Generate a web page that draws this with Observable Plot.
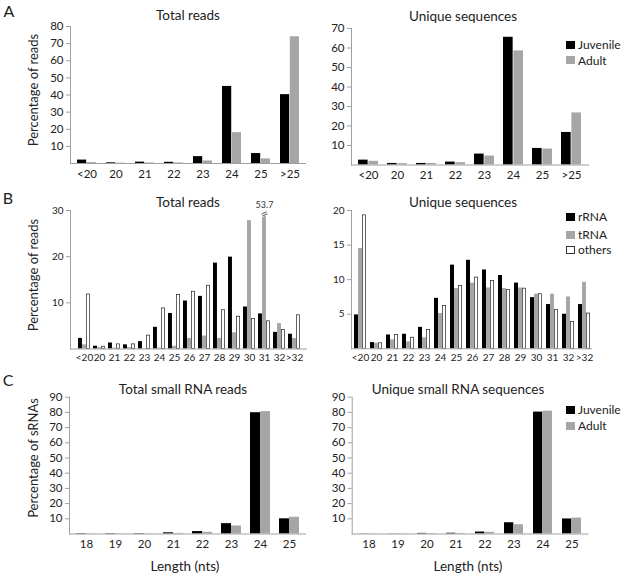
<!DOCTYPE html>
<html>
<head>
<meta charset="utf-8">
<script src="https://cdn.jsdelivr.net/npm/d3@7"></script>
<script src="https://cdn.jsdelivr.net/npm/@observablehq/plot@0.6"></script>
<style>
  html, body { margin: 0; padding: 0; background: #fff; }
  #fig { position: relative; width: 621px; height: 575px; background: #fff; font-family: Lato, "Open Sans", sans-serif; color: #222; overflow: hidden; }
  .lbl { position: absolute; white-space: nowrap; transform: translate(-50%, -50%); line-height: 1; }
  .sw { position: absolute; box-sizing: border-box; }
  svg { position: absolute; overflow: visible; }
</style>
</head>
<body>
<div id="fig"></div>
<script>
// ---------- DATA ----------
const catsA = ["<20", "20", "21", "22", "23", "24", "25", ">25"];
const aTotalJuvenile = [2.0, 0.4, 0.8, 0.7, 4.0, 45.0, 5.8, 40.2];
const aTotalAdult    = [0.5, 0.2, 0.3, 0.3, 1.5, 18.0, 2.7, 74.0];
const aUniqueJuvenile = [2.5, 0.8, 0.8, 1.5, 5.6, 65.5, 8.5, 16.7];
const aUniqueAdult    = [1.9, 0.7, 0.8, 1.2, 4.6, 58.5, 8.2, 26.7];

const catsB = ["<20", "20", "21", "22", "23", "24", "25", "26", "27", "28", "29", "30", "31", "32", ">32"];
const bTotalRRNA   = [2.3, 0.6, 1.3, 0.9, 1.6, 4.7, 7.7, 10.4, 11.4, 18.6, 19.9, 9.1, 7.6, 3.6, 3.2];
const bTotalTRNA   = [0.9, 0.3, 0.2, 0.3, 0.1, 0.2, 0.6, 2.3, 2.8, 2.3, 3.5, 27.8, 53.7, 5.5, 2.3];
const bTotalOthers = [11.8, 0.5, 1.0, 1.0, 2.9, 8.8, 11.7, 12.4, 13.7, 8.4, 7.0, 6.5, 6.0, 4.1, 7.3];
const bUniqueRRNA   = [4.9, 0.9, 2.0, 2.1, 3.1, 7.3, 12.1, 12.8, 11.4, 10.6, 9.5, 7.4, 6.4, 5.0, 6.4];
const bUniqueTRNA   = [14.5, 0.8, 1.3, 1.0, 1.6, 5.1, 8.7, 9.5, 8.8, 8.7, 8.8, 7.9, 7.9, 7.5, 9.6];
const bUniqueOthers = [19.3, 0.8, 2.0, 1.6, 2.7, 6.2, 9.1, 10.3, 9.8, 8.5, 8.7, 7.9, 5.6, 3.9, 5.1];

const catsC = ["18", "19", "20", "21", "22", "23", "24", "25"];
const cTotalJuvenile = [0.3, 0.3, 0.3, 0.8, 1.6, 6.8, 79.8, 10.0];
const cTotalAdult    = [0.1, 0.1, 0.1, 0.4, 1.1, 5.3, 80.5, 11.0];
const cUniqueJuvenile = [0.1, 0.1, 0.4, 0.5, 1.3, 7.4, 80.2, 9.9];
const cUniqueAdult    = [0.1, 0.1, 0.3, 0.4, 1.1, 6.1, 80.8, 10.5];

const ticksA1 = [10, 20, 30, 40, 50, 60, 70, 80];
const ticksA2 = [10, 20, 30, 40, 50, 60, 70];
const ticksB1 = [10, 20, 30];
const ticksB2 = [5, 10, 15, 20];
const ticksC  = [10, 20, 30, 40, 50, 60, 70, 80, 90];

// ---------- STYLE ----------
const BLACK = "#000000", GREY = "#a6a6a6", AXIS = "#a0a0a0";
const fig = document.getElementById("fig");

function panel(o) {
  const n = o.cats.length;
  const step = (o.width - o.ml - o.mr) / (n - o.padIn + 2 * o.padOut);
  const bw = step * (1 - o.padIn);
  const k = o.series.length;
  const sub = bw / k;
  const marks = [];
  o.series.forEach((s, i) => {
    const data = o.cats.map((c, j) => ({cat: c, v: s.values[j]}));
    const sw = s.stroke ? 0.7 : 0;
    marks.push(Plot.barY(data, {
      x: "cat",
      y1: 0,
      y2: d => Math.min(d.v, o.cap ?? Infinity),
      fill: s.fill,
      stroke: s.stroke || "none",
      strokeWidth: sw,
      insetLeft: i * sub + sw / 2,
      insetRight: (k - 1 - i) * sub + sw / 2
    }));
    if (o.cap != null) {
      const over = data.filter(d => d.v > o.cap);
      const dxOff = (i + 0.5) * sub - bw / 2;
      marks.push(Plot.text(over, {x: "cat", y: o.cap, text: d => "=", dx: dxOff, rotate: -25, fontSize: 13, fill: "#666", stroke: "white", strokeWidth: 1.2, paintOrder: "stroke"}));
      marks.push(Plot.text(over, {x: "cat", y: o.cap, text: d => String(d.v), dx: dxOff, dy: -9, fontSize: 9, fill: "#333"}));
    }
  });
  const svg = Plot.plot({
    width: o.width, height: o.height,
    marginLeft: o.ml, marginRight: o.mr, marginTop: o.mt, marginBottom: o.mb,
    style: {fontFamily: "Lato, 'Open Sans', sans-serif", fontSize: o.fontSize || "11.5px", color: "#222", background: "transparent"},
    x: {type: "band", domain: o.cats, paddingInner: o.padIn, paddingOuter: o.padOut, axis: null},
    y: {domain: [0, o.yMax], axis: null},
    marks: [
      ...marks,
      Plot.ruleY([0], {stroke: AXIS, strokeWidth: 1}),
      Plot.frame({anchor: "left", stroke: AXIS, strokeWidth: 1}),
      Plot.axisY({ticks: o.yTicks, tickSize: 4, tickPadding: 3, stroke: AXIS, label: null, tickFormat: d => d}),
      Plot.axisX({tickSize: 0, tickPadding: o.xPad || 6, label: null})
    ]
  });
  svg.style.left = o.left + "px";
  svg.style.top = o.top + "px";
  fig.appendChild(svg);
}

function label(text, x, y, size, opts = {}) {
  const d = document.createElement("div");
  d.className = "lbl";
  d.textContent = text;
  d.style.left = x + "px";
  d.style.top = y + "px";
  d.style.fontSize = size + "px";
  if (opts.rotate) d.style.transform = "translate(-50%, -50%) rotate(-90deg)";
  if (opts.left) d.style.transform = "translate(0, -50%)";
  fig.appendChild(d);
}

function swatch(x, y, fill, stroke) {
  const d = document.createElement("div");
  d.className = "sw";
  d.style.left = x + "px"; d.style.top = y + "px";
  d.style.width = "9px"; d.style.height = "8px";
  d.style.background = fill;
  if (stroke) d.style.border = "0.8px solid " + stroke;
  fig.appendChild(d);
}

// ---------- PANEL A ----------
panel({left: 0, top: 0, width: 310, height: 185, ml: 70, mr: 4, mt: 26, mb: 22,
  cats: catsA, yMax: 80, yTicks: ticksA1, padIn: 0.33, padOut: 0.2,
  series: [{values: aTotalJuvenile, fill: BLACK}, {values: aTotalAdult, fill: GREY}]});
panel({left: 310, top: 0, width: 280, height: 185, ml: 41, mr: 1, mt: 28, mb: 20.5,
  cats: catsA, yMax: 70, yTicks: ticksA2, padIn: 0.3, padOut: 0.17,
  series: [{values: aUniqueJuvenile, fill: BLACK}, {values: aUniqueAdult, fill: GREY}]});

// ---------- PANEL B ----------
panel({left: 0, top: 185, width: 310, height: 200, ml: 70, mr: 3, mt: 25, mb: 36.5,
  cats: catsB, yMax: 30, yTicks: ticksB1, padIn: 0.22, padOut: 0.26, cap: 29.2, xPad: 5, fontSize: "10px",
  series: [{values: bTotalRRNA, fill: BLACK}, {values: bTotalTRNA, fill: GREY}, {values: bTotalOthers, fill: "white", stroke: "#222"}]});
panel({left: 310, top: 185, width: 290, height: 200, ml: 41, mr: 8, mt: 25, mb: 36.7,
  cats: catsB, yMax: 20, yTicks: ticksB2, padIn: 0.25, padOut: 0.15, xPad: 5, fontSize: "10px",
  series: [{values: bUniqueRRNA, fill: BLACK}, {values: bUniqueTRNA, fill: GREY}, {values: bUniqueOthers, fill: "white", stroke: "#222"}]});

// ---------- PANEL C ----------
panel({left: 0, top: 385, width: 310, height: 190, ml: 69, mr: 4, mt: 11.7, mb: 41.5,
  cats: catsC, yMax: 90, yTicks: ticksC, padIn: 0.32, padOut: 0.2,
  series: [{values: cTotalJuvenile, fill: BLACK}, {values: cTotalAdult, fill: GREY}]});
panel({left: 310, top: 385, width: 280, height: 190, ml: 41.7, mr: 1.5, mt: 11.7, mb: 41.5,
  cats: catsC, yMax: 90, yTicks: ticksC, padIn: 0.35, padOut: 0.155,
  series: [{values: cUniqueJuvenile, fill: BLACK}, {values: cUniqueAdult, fill: GREY}]});

// ---------- TEXT ----------
label("A", 9, 11, 16);
label("B", 8, 198, 16);
label("C", 8, 380, 16);

label("Total reads", 188, 16, 13.5);
label("Unique sequences", 463, 17, 13.5);
label("Total reads", 188, 203, 13.5);
label("Unique sequences", 463, 203, 13.5);
label("Total small RNA reads", 183, 390, 13.5);
label("Unique small RNA sequences", 458, 390, 13.5);

label("Percentage of reads", 33, 90, 13, {rotate: true});
label("Percentage of reads", 33, 275, 13, {rotate: true});
label("Percentage of sRNAs", 33, 458, 13, {rotate: true});

label("Length (nts)", 185, 567, 13.5);
label("Length (nts)", 468, 567, 13.5);

// legends
swatch(566, 41, BLACK); label("Juvenile", 578, 45, 12, {left: true});
swatch(566, 56, GREY);  label("Adult", 578, 61, 12, {left: true});

swatch(566, 213, BLACK); label("rRNA", 578, 217, 12, {left: true});
swatch(566, 231, GREY);  label("tRNA", 578, 235, 12, {left: true});
swatch(566, 246, "white", "#333"); label("others", 578, 250, 12, {left: true});

swatch(566, 406, BLACK); label("Juvenile", 578, 410, 12, {left: true});
swatch(566, 422, GREY);  label("Adult", 578, 426, 12, {left: true});
</script>
</body>
</html>
